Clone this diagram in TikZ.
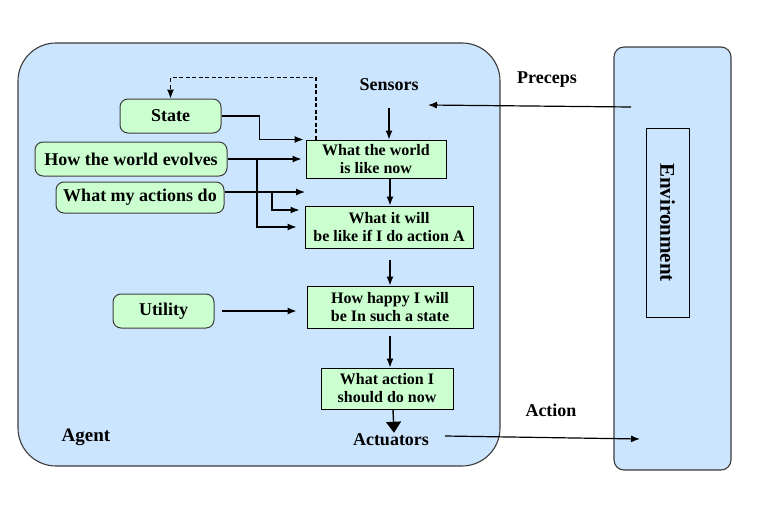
\documentclass[tikz,border=0pt]{standalone}
\usepackage{fontspec}
\setmainfont{Liberation Serif}
\usetikzlibrary{arrows.meta,calc}
\definecolor{agentblue}{RGB}{204,229,255}
\definecolor{nodegreen}{RGB}{204,255,208}
\definecolor{edgegray}{RGB}{60,60,60}
\tikzset{
  arr/.style={line width=1.2pt,-{Latex[length=9pt,width=7pt]}},
  bigarr/.style={line width=1.4pt,-{Triangle[length=11pt,width=15pt]}},
  lnode/.style={draw=edgegray,line width=1pt,fill=nodegreen,rounded corners=8pt,
    font=\fontsize{18}{20}\selectfont\bfseries,inner sep=1pt},
  pbox/.style={draw=black,line width=1pt,fill=nodegreen,align=center,
    font=\fontsize{16}{18}\selectfont\bfseries,inner sep=1pt},
  lbl/.style={font=\fontsize{18}{20}\selectfont\bfseries,inner sep=1pt},
  bigbox/.style={draw=edgegray,line width=1.1pt,fill=agentblue}
}
\begin{document}
\begin{tikzpicture}[x=1pt,y=-1pt]
\useasboundingbox[fill=white] (0,0) rectangle (762,527);
% big boxes
\draw[bigbox,rounded corners=38pt] (18,43) rectangle (500,466);
\draw[bigbox,rounded corners=10pt] (614,47) rectangle (731,470);
\node[draw=black,line width=1pt,minimum width=43pt,minimum height=189pt,inner sep=0pt] (envin) at (667.5,222.5) {};
\node[rotate=-90,font=\fontsize{21}{23}\selectfont\bfseries] (envtxt) at (envin) {Environment};
% labels
\node[lbl] (sensors) at (389,85) {Sensors};
\node[lbl] (preceps) at (547,80) {Preceps};
\node[lbl] (action) at (551,410) {Action};
\node[lbl] (actuators) at (391,440) {Actuators};
\node[lbl,font=\fontsize{19}{21}\selectfont\bfseries] (agent) at (86,437) {Agent};
% left nodes
\node[lnode,minimum width=101pt,minimum height=34pt] (state) at (170.5,116) {State};
\node[lnode,minimum width=192pt,minimum height=34pt] (how) at (131,159) {How the world evolves};
\node[lnode,minimum width=168pt,minimum height=31pt] (acts) at (140,197.5) {What my actions do};
\node[lnode,minimum width=101pt,minimum height=34pt] (util) at (163.5,311) {Utility};
% process boxes
\node[pbox,minimum width=140pt,minimum height=38pt] (world) at (376,159) {What the world\\is like now};
\node[pbox,minimum width=168pt,minimum height=42pt] (will) at (389,227) {What it will\\be like if I do action A};
\node[pbox,minimum width=166pt,minimum height=42pt] (happy) at (390,307) {How happy I will\\be In such a state};
\node[pbox,minimum width=132pt,minimum height=41pt] (act) at (387,388.5) {What action I\\should do now};
% column coordinate
\coordinate (cx) at (390,0);
% vertical chain
\draw[arr] ([yshift=-16pt]sensors.south) -- (sensors.south |- world.north);
\draw[arr] (world.south -| cx) -- (will.north -| cx);
\draw[arr] ([yshift=-11pt]will.south -| cx) -- (happy.north -| cx);
\draw[arr] ([yshift=-7pt]happy.south -| cx) -- (act.north -| cx);
\draw[bigarr] ([xshift=3pt]act.south -| cx) -- ([xshift=3pt]actuators.north);
% utility
\draw[arr] ([xshift=7pt]util.east) -- ([xshift=-10pt]util.east -| happy.west);
% state
\draw[arr] (state.east) -- ++(38,0) |- ([xshift=-2pt]world.north west);
% how the world evolves
\coordinate (hj) at (257,159);
\draw[arr] (how.east) -- ([xshift=-4pt]world.west);
\draw[arr] (hj) |- ([xshift=-8pt]will.west);
% what my actions do
\coordinate (aj) at (272,192);
\coordinate (aend) at (305,192);
\draw[arr] ([yshift=5.5pt]acts.east) -- (aend);
\draw[arr] (aj) |- ([xshift=-5pt,yshift=17pt]will.west);
% dashed feedback
\draw[arr,dash pattern=on 4pt off 2.5pt] ([xshift=-60pt]world.north) -- ++(0,-62) -| (state.north);
% percepts and action
\coordinate (pin) at (631,107);
\coordinate (pout) at (428,105);
\draw[arr] (pin) -- (pout);
\coordinate (ain) at (445,436);
\coordinate (aout) at (640,439);
\draw[arr] (ain) -- (aout);
\end{tikzpicture}
\end{document}
